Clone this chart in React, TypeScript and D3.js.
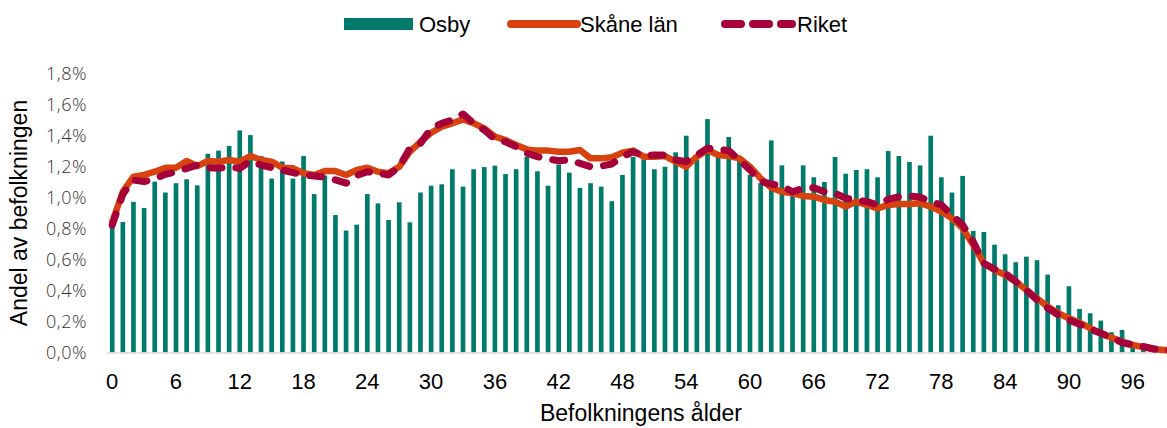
import React from "react";
import * as d3 from "d3";

const ages: number[] = Array.from({ length: 101 }, (_, i) => i);
const xTickAges = [0, 6, 12, 18, 24, 30, 36, 42, 48, 54, 60, 66, 72, 78, 84, 90, 96];
const yTicks = [0, 0.2, 0.4, 0.6, 0.8, 1.0, 1.2, 1.4, 1.6, 1.8];

const osby = [
  0.81, 0.84, 0.97, 0.93, 1.10, 1.03, 1.09, 1.115, 1.076, 1.28,
  1.30, 1.33, 1.43, 1.40, 1.265, 1.12, 1.23, 1.12, 1.265, 1.02,
  1.14, 0.885, 0.785, 0.823, 1.02, 0.96, 0.853, 0.967, 0.838, 1.03,
  1.074, 1.083, 1.18, 1.068, 1.18, 1.194, 1.203, 1.149, 1.18, 1.26,
  1.167, 1.074, 1.21, 1.158, 1.06, 1.09, 1.068, 0.974, 1.143, 1.26,
  1.244, 1.18, 1.196, 1.289, 1.396, 1.24, 1.503, 1.26, 1.388, 1.24,
  1.143, 1.09, 1.366, 1.205, 1.025, 1.205, 1.128, 1.098, 1.259, 1.151,
  1.175, 1.18, 1.128, 1.297, 1.265, 1.227, 1.205, 1.396, 1.128, 1.03,
  1.137, 0.782, 0.776, 0.694, 0.632, 0.581, 0.617, 0.594, 0.501, 0.304,
  0.426, 0.28, 0.252, 0.205, 0.13, 0.145, 0.04, 0.03, 0.03, 0.01,
  0.01,
];

const skane = [
  0.84, 1.035, 1.132, 1.143, 1.164, 1.19, 1.19, 1.233, 1.20, 1.233,
  1.229, 1.24, 1.229, 1.265, 1.24, 1.229, 1.19, 1.186, 1.154, 1.143,
  1.168, 1.168, 1.143, 1.175, 1.19, 1.164, 1.154, 1.196, 1.293, 1.357,
  1.415, 1.454, 1.476, 1.501, 1.476, 1.443, 1.39, 1.368, 1.336, 1.308,
  1.30, 1.30, 1.293, 1.293, 1.304, 1.25, 1.25, 1.257, 1.287, 1.30,
  1.261, 1.261, 1.265, 1.229, 1.196, 1.261, 1.304, 1.272, 1.265, 1.25,
  1.196, 1.121, 1.061, 1.035, 1.025, 1.008, 1.003, 0.982, 0.971, 0.939,
  0.971, 0.95, 0.928, 0.95, 0.956, 0.956, 0.961, 0.939, 0.907, 0.864,
  0.80, 0.692, 0.574, 0.531, 0.499, 0.456, 0.402, 0.349, 0.295, 0.252,
  0.22, 0.192, 0.156, 0.124, 0.095, 0.07, 0.048, 0.033, 0.021, 0.016,
  0.01,
];

const riket = [
  0.82, 1.02, 1.11, 1.10, 1.12, 1.147, 1.164, 1.186, 1.207, 1.19,
  1.186, 1.196, 1.186, 1.233, 1.207, 1.19, 1.175, 1.158, 1.143, 1.137,
  1.13, 1.111, 1.09, 1.14, 1.164, 1.154, 1.143, 1.196, 1.315, 1.347,
  1.443, 1.476, 1.497, 1.536, 1.476, 1.433, 1.373, 1.357, 1.325, 1.283,
  1.261, 1.246, 1.235, 1.24, 1.218, 1.196, 1.20, 1.214, 1.261, 1.293,
  1.265, 1.272, 1.272, 1.24, 1.229, 1.272, 1.315, 1.308, 1.30, 1.24,
  1.175, 1.10, 1.085, 1.072, 1.035, 1.057, 1.061, 1.035, 1.025, 0.993,
  0.982, 0.971, 0.95, 0.986, 1.003, 1.008, 1.0, 0.971, 0.95, 0.885,
  0.821, 0.713, 0.574, 0.536, 0.51, 0.456, 0.402, 0.338, 0.285, 0.241,
  0.209, 0.181, 0.149, 0.124, 0.095, 0.063, 0.048, 0.038, 0.022, 0.015,
  0.01,
];

const TEAL = "#007b6b";
const ORANGE = "#d8420f";
const CRIMSON = "#a5003a";

const W = 1167;
const H = 428;
const plotLeft = 106.9;
const step = 10.63;
const y0 = 352.4;
const yTop = 73;

export default function App() {
  const x = d3
    .scaleBand<number>()
    .domain(ages)
    .range([plotLeft, plotLeft + step * ages.length])
    .paddingInner(0.56)
    .paddingOuter(0.28);
  const cx = (a: number) => (x(a) as number) + x.bandwidth() / 2;
  const y = d3.scaleLinear().domain([0, 1.8]).range([y0, yTop]);

  const line = d3
    .line<number>()
    .x((_, i) => cx(ages[i]))
    .y((d) => y(d))
    .curve(d3.curveLinear);

  const fmt = (v: number) => v.toFixed(1).replace(".", ",") + "%";
  const font = "'Liberation Sans', Arial, sans-serif";

  return (
    <svg
      width={W}
      height={H}
      style={{ position: "absolute", left: 0, top: 0, display: "block", background: "#fff" }}
    >
      {/* legend */}
      <g fontFamily={font} fontSize={22} fill="#000">
        <rect x={344} y={18} width={69} height={12} fill={TEAL} />
        <text x={419} y={32}>Osby</text>
        <line x1={511} y1={24} x2={577} y2={24} stroke={ORANGE} strokeWidth={8} strokeLinecap="round" />
        <text x={580} y={32}>Skåne län</text>
        <line
          x1={725}
          y1={24}
          x2={792}
          y2={24}
          stroke={CRIMSON}
          strokeWidth={8}
          strokeLinecap="round"
          strokeDasharray="16 12"
        />
        <text x={797} y={32}>Riket</text>
      </g>

      {/* y tick labels */}
      <g fontFamily="'Open Sans', sans-serif" fontWeight={300} fontSize={18} fill="#333" textAnchor="end">
        {yTicks.map((t) => (
          <text key={t} x={87} y={y(t) + 6.5} letterSpacing={0.5}>
            {fmt(t)}
          </text>
        ))}
      </g>

      {/* bars */}
      <g fill={TEAL}>
        {ages.map((a, i) => (
          <rect key={a} x={x(a)} y={y(osby[i])} width={x.bandwidth()} height={y0 - y(osby[i])} />
        ))}
      </g>

      {/* axis line */}
      <line x1={plotLeft} x2={W} y1={y0 + 0.5} y2={y0 + 0.5} stroke="#d9d9d9" strokeWidth={1.5} />

      {/* lines */}
      <path d={line(skane) || ""} fill="none" stroke={ORANGE} strokeWidth={6.5} strokeLinejoin="round" strokeLinecap="round" />
      <path
        d={line(riket) || ""}
        fill="none"
        stroke={CRIMSON}
        strokeWidth={7}
        strokeLinejoin="round"
        strokeLinecap="round"
        strokeDasharray="12 14"
      />

      {/* x tick labels */}
      <g fontFamily={font} fontSize={22} fill="#000" textAnchor="middle">
        {xTickAges.map((a) => (
          <text key={a} x={cx(a)} y={389}>
            {a}
          </text>
        ))}
      </g>

      {/* axis titles */}
      <text x={641} y={421} fontFamily={font} fontSize={23} textAnchor="middle" fill="#000">
        Befolkningens ålder
      </text>
      <text
        transform={`translate(27,213) rotate(-90)`}
        fontFamily={font}
        fontSize={23}
        textAnchor="middle"
        fill="#000"
      >
        Andel av befolkningen
      </text>
    </svg>
  );
}
